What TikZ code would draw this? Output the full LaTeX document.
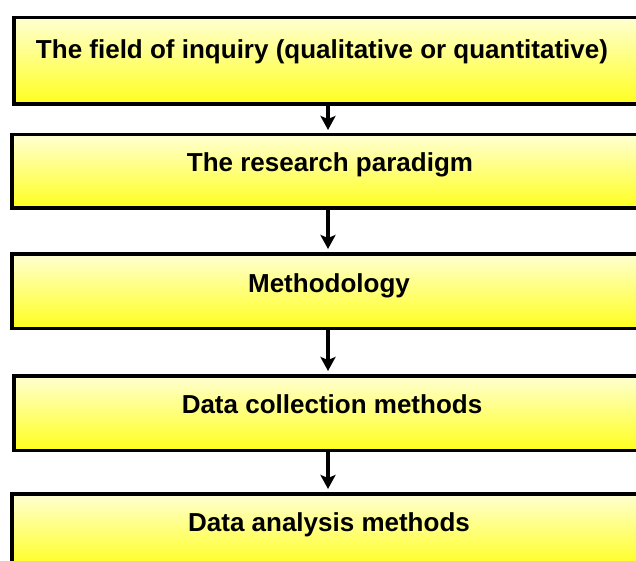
\documentclass[tikz,border=0pt]{standalone}
\usepackage{fontspec}
\setmainfont{Liberation Sans}
\usetikzlibrary{arrows.meta}

\definecolor{boxtop}{HTML}{FFFFD2}
\definecolor{boxmid}{HTML}{FFFF9E}
\definecolor{boxbot}{HTML}{FFFF1E}

\begin{document}
\begin{tikzpicture}[
  x=1pt, y=-1pt,
  font=\fontsize{26}{30}\selectfont\bfseries,
  box/.style={draw=black, line width=3.5pt, anchor=north, inner sep=0pt,
    minimum width=628.5pt, minimum height=74.5pt,
    top color=boxtop, middle color=boxmid, bottom color=boxbot},
  lbl/.style={anchor=base, inner sep=0pt},
  link/.style={-{Stealth[length=14pt,width=15pt,inset=3pt]}, line width=3.5pt,
    shorten >=3pt}
]

% Page frame; the boxes run off the right edge.
\useasboundingbox (0,0) rectangle (636,561);
\clip (0,0) rectangle (636,561);

% Stages, top to bottom.
\node[box, minimum height=86.5pt] (field) at (328,16) {};
\node[box, minimum width=632.5pt, minimum height=73.5pt] (paradigm) at (328,133) {};
\node[box, minimum width=632.5pt] (method) at (328,252) {};
\node[box] (collect) at (328,374) {};
\node[box, minimum width=632.5pt] (analyse) at (328,492) {};

% Stage titles.
\node[lbl] (tfield) at (322,59) {The field of inquiry (qualitative or quantitative)};
\node[lbl] (tparadigm) at (330,172) {The research paradigm};
\node[lbl] (tmethod) at (329,292) {Methodology};
\node[lbl] (tcollect) at (332,413) {Data collection methods};
\node[lbl] (tanalyse) at (329,531) {Data analysis methods};

% Flow between stages.
\draw[link] (field.south) -- (paradigm.north);
\draw[link] (paradigm.south) -- (method.north);
\draw[link] (method.south) -- (collect.north);
\draw[link] (collect.south) -- (analyse.north);

\end{tikzpicture}
\end{document}
